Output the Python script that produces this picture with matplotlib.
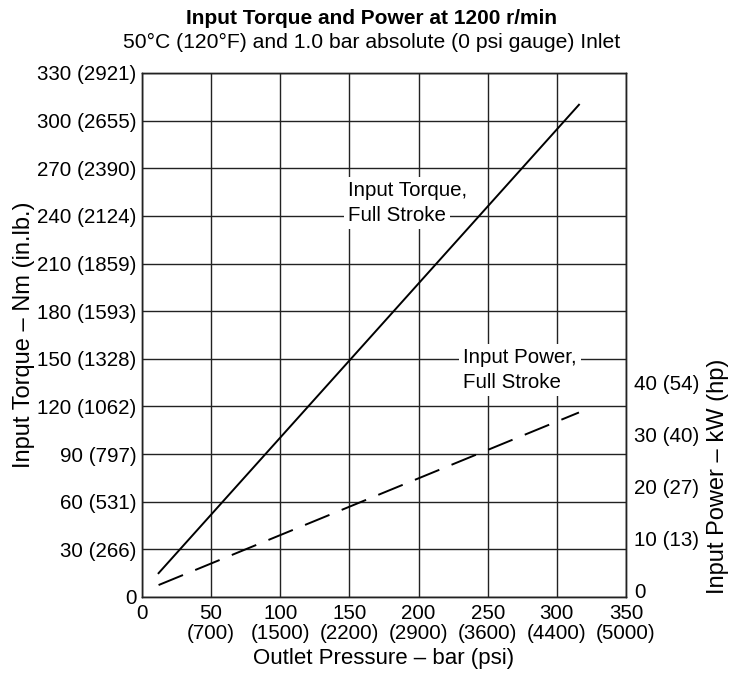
"""
input torque / power vs outlet pressure chart
"""
import matplotlib
matplotlib.use('Agg')
import matplotlib.pyplot as plt

plt.rcParams['font.family'] = ['Liberation Sans', 'DejaVu Sans']
plt.rcParams['lines.scale_dashes'] = False

# data
pressure = [12, 316]            # bar
torque = [15, 310]              # Nm
power = [1.0, 34.3]             # kW

x_ticks = [0, 50, 100, 150, 200, 250, 300, 350]
x_labels = ['0', '50\n(700)', '100\n(1500)', '150\n(2200)', '200\n(2900)',
            '250\n(3600)', '300\n(4400)', '350\n(5000)']
y_ticks = [0, 30, 60, 90, 120, 150, 180, 210, 240, 270, 300, 330]
y_labels = ['0', '30 (266)', '60 (531)', '90 (797)', '120 (1062)', '150 (1328)',
            '180 (1593)', '210 (1859)', '240 (2124)', '270 (2390)', '300 (2655)',
            '330 (2921)']
p_ticks = [0, 10, 20, 30, 40]
p_labels = ['0', '10 (13)', '20 (27)', '30 (40)', '40 (54)']

fs = 14.8

fig = plt.figure(figsize=(7.43, 6.79), dpi=100)
ax = fig.add_axes([0.1911, 0.1208, 0.6514, 0.7717])

ax.set_xlim(0, 350)
ax.set_ylim(0, 330)
ax.set_xticks(x_ticks)
ax.set_xticklabels(x_labels, fontsize=fs, linespacing=1.1)
ax.set_yticks(y_ticks)
ax.set_yticklabels(y_labels, fontsize=fs)
ax.tick_params(axis='y', length=0, pad=4)
ax.tick_params(axis='x', length=0, pad=5)
ax.grid(True, color='#222222', lw=1.0)
ax.set_axisbelow(True)
for s in ax.spines.values():
    s.set_linewidth(1.0)
    s.set_color('#222222')

ax.plot(pressure, torque, color='black', lw=1.4, zorder=3)

ax.set_xlabel('Outlet Pressure – bar (psi)', fontsize=16, labelpad=3)
ax.set_ylabel('Input Torque – Nm (in.lb.)', fontsize=17)
ax.yaxis.set_label_coords(-0.221, 0.5)

# right axis, power
ax2 = ax.twinx()
ax2.set_ylim(-1.3, 99.8)
ax2.set_yticks(p_ticks)
ax2.set_yticklabels(p_labels, fontsize=fs)
ax2.tick_params(length=0, pad=6)
ax2.plot(pressure, power, color='black', lw=1.4, dashes=(19, 9.5), zorder=3)
ax2.set_ylabel('Input Power – kW (hp)', fontsize=17)
ax2.yaxis.set_label_coords(1.168, 0.23)
for s in ax2.spines.values():
    s.set_linewidth(1.0)
    s.set_color('#222222')

# line labels with white boxes that cut the grid
box = dict(facecolor='white', edgecolor='none', pad=3)
ax.text(149, 256, 'Input Torque,', fontsize=fs, ha='left', va='center', bbox=box, zorder=4)
ax.text(149, 240.5, 'Full Stroke', fontsize=fs, ha='left', va='center', bbox=box, zorder=4)
ax.text(232, 151, 'Input Power,', fontsize=fs, ha='left', va='center', bbox=box, zorder=4)
ax.text(232, 135, 'Full Stroke', fontsize=fs, ha='left', va='center', bbox=box, zorder=4)

fig.text(0.5, 0.973, 'Input Torque and Power at 1200 r/min', fontsize=15,
         fontweight='bold', ha='center', va='center')
fig.text(0.5, 0.937, '50°C (120°F) and 1.0 bar absolute (0 psi gauge) Inlet',
         fontsize=15.2, ha='center', va='center')

fig.savefig('out.png', dpi=100)
